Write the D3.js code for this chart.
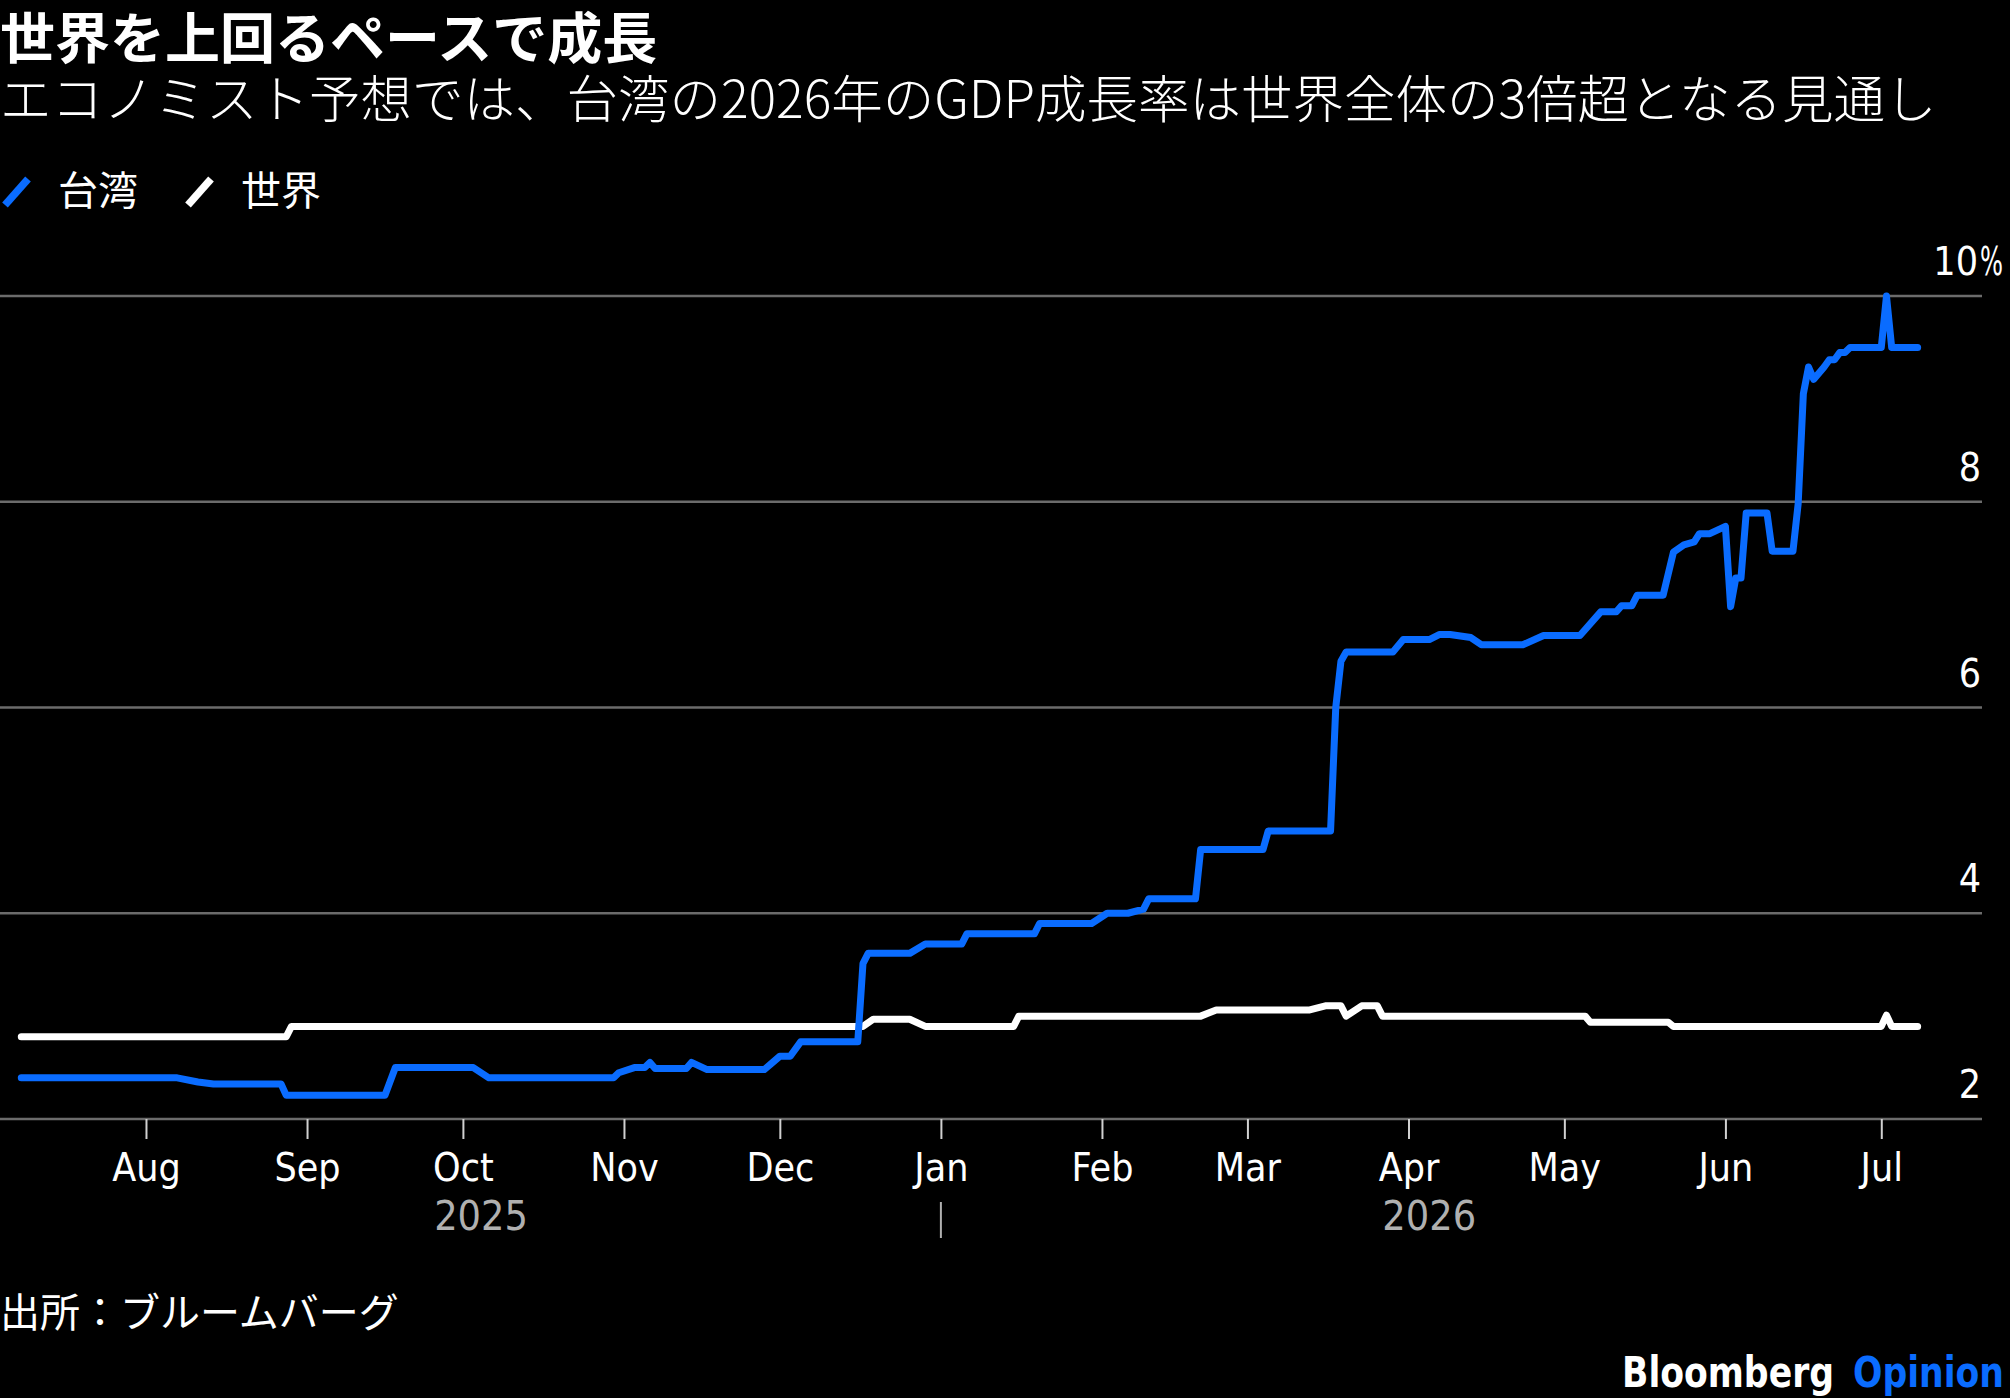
<!DOCTYPE html>
<html>
<head>
<meta charset="utf-8">
<script src="https://cdn.jsdelivr.net/npm/d3@7"></script>
<style>
  html, body { margin: 0; padding: 0; background: #000; }
  svg { display: block; }
</style>
</head>
<body>
<script>
// GDP growth forecasts for 2026 (%)
const taiwan = [
  ['2025-07-08', 2.40], ['2025-08-07', 2.40], ['2025-08-11', 2.36], ['2025-08-14', 2.34],
  ['2025-08-27', 2.34], ['2025-08-28', 2.23], ['2025-09-16', 2.23], ['2025-09-18', 2.50],
  ['2025-10-03', 2.50], ['2025-10-06', 2.40], ['2025-10-30', 2.40], ['2025-10-31', 2.45],
  ['2025-11-03', 2.50], ['2025-11-05', 2.50], ['2025-11-06', 2.55], ['2025-11-07', 2.49],
  ['2025-11-13', 2.49], ['2025-11-14', 2.55], ['2025-11-17', 2.48], ['2025-11-28', 2.48],
  ['2025-12-01', 2.61], ['2025-12-03', 2.61], ['2025-12-05', 2.75], ['2025-12-16', 2.75],
  ['2025-12-17', 3.51], ['2025-12-18', 3.61], ['2025-12-26', 3.61], ['2025-12-29', 3.70],
  ['2026-01-05', 3.70], ['2026-01-06', 3.80], ['2026-01-19', 3.80], ['2026-01-20', 3.90],
  ['2026-01-30', 3.90], ['2026-02-02', 4.00], ['2026-02-06', 4.00], ['2026-02-09', 4.04],
  ['2026-02-10', 4.14], ['2026-02-19', 4.14], ['2026-02-20', 4.62], ['2026-03-04', 4.62],
  ['2026-03-05', 4.80], ['2026-03-17', 4.80], ['2026-03-18', 6.00], ['2026-03-19', 6.45],
  ['2026-03-20', 6.54], ['2026-03-29', 6.54], ['2026-03-31', 6.66], ['2026-04-05', 6.66],
  ['2026-04-07', 6.71], ['2026-04-09', 6.71], ['2026-04-13', 6.68], ['2026-04-15', 6.61],
  ['2026-04-23', 6.61], ['2026-04-27', 6.70], ['2026-05-04', 6.70], ['2026-05-08', 6.93],
  ['2026-05-11', 6.93], ['2026-05-12', 6.99], ['2026-05-14', 6.99], ['2026-05-15', 7.09],
  ['2026-05-20', 7.09], ['2026-05-22', 7.51], ['2026-05-24', 7.58], ['2026-05-26', 7.61],
  ['2026-05-27', 7.69], ['2026-05-29', 7.69], ['2026-06-01', 7.76], ['2026-06-02', 6.98],
  ['2026-06-03', 7.26], ['2026-06-04', 7.26], ['2026-06-05', 7.89], ['2026-06-09', 7.89],
  ['2026-06-10', 7.52], ['2026-06-14', 7.52], ['2026-06-15', 7.98], ['2026-06-16', 9.05],
  ['2026-06-17', 9.31], ['2026-06-18', 9.19], ['2026-06-20', 9.31], ['2026-06-21', 9.38],
  ['2026-06-22', 9.38], ['2026-06-23', 9.45], ['2026-06-24', 9.45], ['2026-06-25', 9.50],
  ['2026-07-01', 9.50], ['2026-07-02', 10.0], ['2026-07-03', 9.50], ['2026-07-08', 9.50]
]

const world = [
  ['2025-07-08', 2.80], ['2025-08-28', 2.80], ['2025-08-29', 2.90], ['2025-12-17', 2.90],
  ['2025-12-19', 2.97], ['2025-12-26', 2.97], ['2025-12-29', 2.90], ['2026-01-15', 2.90],
  ['2026-01-16', 3.00], ['2026-02-20', 3.00], ['2026-02-23', 3.06], ['2026-03-13', 3.06],
  ['2026-03-16', 3.10], ['2026-03-19', 3.10], ['2026-03-20', 3.00], ['2026-03-23', 3.10],
  ['2026-03-26', 3.10], ['2026-03-27', 3.00], ['2026-05-05', 3.00], ['2026-05-06', 2.94],
  ['2026-05-21', 2.94], ['2026-05-22', 2.90], ['2026-07-01', 2.90], ['2026-07-02', 3.01],
  ['2026-07-03', 2.90], ['2026-07-08', 2.90]
]

const yTicks = [2, 4, 6, 8, 10]
const legendLabels = ['台湾', '世界']
const yearLabels = ['2025', '2026']

const title = '世界を上回るペースで成長'
const subtitle = 'エコノミスト予想では、台湾の2026年のGDP成長率は世界全体の3倍超となる見通し'
const source = '出所：ブルームバーグ'

const width = 2010
const height = 1398
const blue = '#0a6cff'
const jpFont = "'Noto Sans CJK JP', sans-serif"
const numFont = "'DejaVu Sans Condensed', 'Liberation Sans Narrow', 'Noto Sans', sans-serif"

const parse = d3.timeParse('%Y-%m-%d')
const series = [
  { name: legendLabels[0], color: blue, values: taiwan.map(([d, v]) => ({ date: parse(d), value: v })) },
  { name: legendLabels[1], color: '#fff', values: world.map(([d, v]) => ({ date: parse(d), value: v })) }
]

const x = d3.scaleTime()
  .domain([parse('2025-07-04'), parse('2026-07-20')])
  .range([0.5, 1980])
const y = d3.scaleLinear().domain([2, 10]).range([1119, 296])
const plotRight = 1982

const svg = d3.select('body').append('svg')
  .attr('width', width)
  .attr('height', height)
  .attr('viewBox', [0, 0, width, height])

svg.append('rect').attr('width', width).attr('height', height).attr('fill', '#000')

// titles
svg.append('text')
  .attr('x', 0).attr('y', 58)
  .attr('font-family', jpFont).attr('font-size', 55).attr('font-weight', 700)
  .attr('fill', '#fff')
  .text(title)

svg.append('text')
  .attr('x', 0).attr('y', 118)
  .attr('font-family', jpFont).attr('font-size', 51.5).attr('font-weight', 300)
  .attr('fill', '#fff')
  .text(subtitle)

// legend
const legend = svg.append('g')
  .selectAll('g')
  .data(series)
  .join('g')
  .attr('transform', (d, i) => `translate(${i === 0 ? 0 : 183},0)`)

legend.append('line')
  .attr('x1', 5).attr('y1', 205).attr('x2', 28).attr('y2', 179)
  .attr('stroke', d => d.color).attr('stroke-width', 7.5)

legend.append('text')
  .attr('x', 58).attr('y', 205)
  .attr('font-family', jpFont).attr('font-size', 40)
  .attr('fill', '#fff')
  .text(d => d.name)

// gridlines
svg.append('g')
  .attr('stroke', '#6b6b6b')
  .attr('stroke-width', 2.5)
  .selectAll('line')
  .data(yTicks)
  .join('line')
  .attr('x1', 0).attr('x2', plotRight)
  .attr('y1', d => y(d)).attr('y2', d => y(d))

// y labels, right aligned, % hanging off the end
const yLabels = svg.append('g')
  .attr('font-family', numFont).attr('font-size', 39).attr('fill', '#fff')
yLabels.selectAll('text.num')
  .data(yTicks)
  .join('text')
  .attr('class', 'num')
  .attr('x', d => d === 10 ? 1978 : 1981).attr('y', d => y(d) - 21)
  .attr('text-anchor', 'end')
  .text(d => d)
yLabels.append('text')
  .attr('x', 1980).attr('y', y(10) - 21)
  .attr('textLength', 23).attr('lengthAdjust', 'spacingAndGlyphs')
  .text('%')

// x axis
const xAxis = svg.append('g')
  .attr('transform', `translate(0,${y(2)})`)
  .call(d3.axisBottom(x)
    .ticks(d3.timeMonth.every(1))
    .tickFormat(d3.timeFormat('%b'))
    .tickSize(20))
xAxis.select('.domain').remove()
xAxis.selectAll('.tick line').attr('stroke', '#d0d0d0').attr('stroke-width', 2)
xAxis.selectAll('.tick text')
  .attr('y', 62).attr('dy', null)
  .attr('fill', '#fff')
  .attr('font-family', numFont).attr('font-size', 39)

const start = series[0].values[0].date
const end = series[0].values[series[0].values.length - 1].date
const jan = parse('2026-01-01')
const yearPos = [(x(start) + x(jan)) / 2, (x(jan) + x(end)) / 2]

svg.append('g')
  .selectAll('text')
  .data(yearLabels)
  .join('text')
  .attr('x', (d, i) => yearPos[i]).attr('y', 1230)
  .attr('text-anchor', 'middle')
  .attr('font-family', numFont).attr('font-size', 41)
  .attr('fill', '#b0b0b0')
  .text(d => d)

svg.append('line')
  .attr('x1', x(jan)).attr('x2', x(jan))
  .attr('y1', 1202).attr('y2', 1238)
  .attr('stroke', '#b0b0b0').attr('stroke-width', 2)

// lines
const line = d3.line()
  .x(d => x(d.date))
  .y(d => y(d.value))

svg.append('g')
  .attr('fill', 'none')
  .attr('stroke-width', 7)
  .attr('stroke-linejoin', 'round')
  .attr('stroke-linecap', 'round')
  .selectAll('path')
  .data(series.slice().reverse())
  .join('path')
  .attr('stroke', d => d.color)
  .attr('d', d => line(d.values))

// footer
svg.append('text')
  .attr('x', 0).attr('y', 1327)
  .attr('font-family', jpFont).attr('font-size', 40)
  .attr('fill', '#fff')
  .text(source)

const brand = svg.append('g')
  .attr('font-family', numFont).attr('font-size', 42).attr('font-weight', 700)
brand.append('text')
  .attr('x', 1622).attr('y', 1387)
  .attr('fill', '#fff')
  .attr('textLength', 212).attr('lengthAdjust', 'spacingAndGlyphs')
  .text('Bloomberg')
brand.append('text')
  .attr('x', 1853).attr('y', 1387)
  .attr('fill', blue)
  .attr('textLength', 151).attr('lengthAdjust', 'spacingAndGlyphs')
  .text('Opinion')
</script>
</body>
</html>
